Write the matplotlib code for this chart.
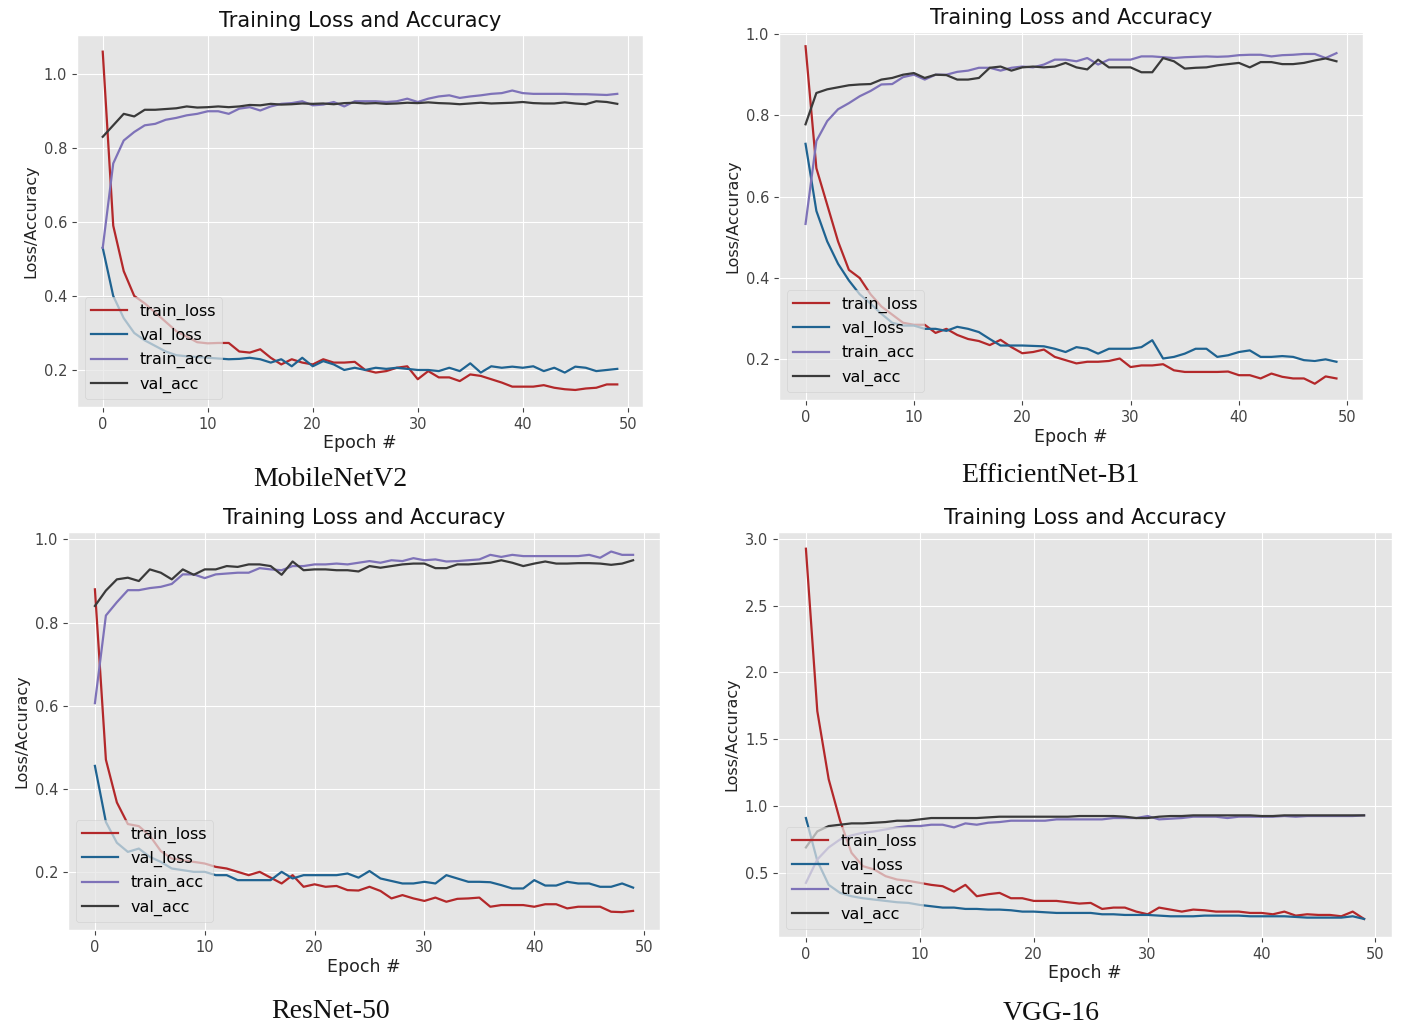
import matplotlib
matplotlib.use("Agg")
import matplotlib.pyplot as plt
import numpy as np

epochs = np.arange(50)

# MobileNetV2
mb_train_loss = [1.06, 0.59, 0.467, 0.40, 0.38, 0.355, 0.33, 0.305, 0.29, 0.275,
                 0.272, 0.273, 0.273, 0.25, 0.247, 0.256, 0.233, 0.215, 0.229, 0.22,
                 0.215, 0.229, 0.22, 0.22, 0.222, 0.20, 0.193, 0.197, 0.206, 0.21,
                 0.175, 0.197, 0.18, 0.18, 0.17, 0.188, 0.184, 0.175, 0.166, 0.155,
                 0.155, 0.155, 0.159, 0.152, 0.148, 0.146, 0.15, 0.152, 0.161, 0.161]
mb_val_loss = [0.53, 0.40, 0.34, 0.30, 0.28, 0.265, 0.25, 0.24, 0.237, 0.235,
               0.233, 0.231, 0.229, 0.23, 0.233, 0.229, 0.22, 0.229, 0.21, 0.233,
               0.21, 0.224, 0.215, 0.20, 0.206, 0.20, 0.206, 0.203, 0.206, 0.203,
               0.20, 0.20, 0.197, 0.206, 0.197, 0.218, 0.193, 0.21, 0.206, 0.209,
               0.206, 0.21, 0.197, 0.206, 0.193, 0.209, 0.206, 0.197, 0.20, 0.203]
mb_train_acc = [0.53, 0.758, 0.82, 0.843, 0.861, 0.865, 0.876, 0.881, 0.888, 0.892,
                0.899, 0.899, 0.892, 0.906, 0.91, 0.901, 0.912, 0.919, 0.921, 0.926,
                0.915, 0.917, 0.924, 0.912, 0.926, 0.926, 0.926, 0.924, 0.926, 0.933,
                0.924, 0.933, 0.939, 0.942, 0.935, 0.939, 0.942, 0.946, 0.948, 0.955,
                0.948, 0.946, 0.946, 0.946, 0.946, 0.945, 0.945, 0.944, 0.943, 0.946]
mb_val_acc = [0.83, 0.861, 0.892, 0.885, 0.903, 0.903, 0.905, 0.907, 0.912, 0.909,
              0.91, 0.912, 0.91, 0.912, 0.916, 0.915, 0.919, 0.917, 0.918, 0.92,
              0.919, 0.92, 0.918, 0.921, 0.922, 0.92, 0.921, 0.919, 0.92, 0.922,
              0.921, 0.923, 0.921, 0.92, 0.918, 0.92, 0.922, 0.92, 0.921, 0.922,
              0.924, 0.921, 0.92, 0.92, 0.923, 0.92, 0.918, 0.926, 0.924, 0.919]

# EfficientNet-B1
ef_train_loss = [0.97, 0.67, 0.58, 0.49, 0.42, 0.40, 0.36, 0.33, 0.31, 0.29,
                 0.285, 0.285, 0.265, 0.275, 0.26, 0.25, 0.245, 0.235, 0.248, 0.23,
                 0.215, 0.218, 0.224, 0.206, 0.198, 0.19, 0.194, 0.194, 0.196, 0.202,
                 0.181, 0.185, 0.185, 0.188, 0.173, 0.169, 0.169, 0.169, 0.169, 0.17,
                 0.161, 0.161, 0.153, 0.165, 0.157, 0.153, 0.153, 0.14, 0.158, 0.153]
ef_val_loss = [0.73, 0.565, 0.49, 0.435, 0.394, 0.36, 0.337, 0.312, 0.29, 0.283,
               0.283, 0.275, 0.275, 0.27, 0.28, 0.275, 0.267, 0.25, 0.234, 0.234,
               0.234, 0.233, 0.232, 0.226, 0.218, 0.23, 0.226, 0.214, 0.226, 0.226,
               0.226, 0.23, 0.247, 0.202, 0.206, 0.214, 0.226, 0.226, 0.206, 0.21,
               0.218, 0.222, 0.206, 0.206, 0.208, 0.206, 0.198, 0.196, 0.20, 0.194]
ef_train_acc = [0.533, 0.737, 0.786, 0.815, 0.83, 0.847, 0.86, 0.876, 0.877, 0.894,
                0.90, 0.888, 0.90, 0.90, 0.907, 0.91, 0.917, 0.917, 0.91, 0.917,
                0.92, 0.918, 0.925, 0.937, 0.937, 0.933, 0.941, 0.925, 0.937, 0.937,
                0.937, 0.945, 0.945, 0.943, 0.941, 0.943, 0.944, 0.945, 0.944, 0.945,
                0.948, 0.949, 0.949, 0.945, 0.948, 0.949, 0.951, 0.951, 0.941, 0.953]
ef_val_acc = [0.778, 0.855, 0.864, 0.869, 0.874, 0.876, 0.877, 0.888, 0.892, 0.90,
              0.904, 0.892, 0.90, 0.899, 0.888, 0.888, 0.892, 0.917, 0.92, 0.91,
              0.918, 0.92, 0.918, 0.92, 0.929, 0.918, 0.913, 0.937, 0.918, 0.918,
              0.918, 0.906, 0.906, 0.941, 0.933, 0.915, 0.917, 0.918, 0.923, 0.926,
              0.929, 0.918, 0.931, 0.931, 0.926, 0.926, 0.929, 0.935, 0.94, 0.933]

# ResNet-50
rn_train_loss = [0.88, 0.47, 0.367, 0.315, 0.31, 0.287, 0.25, 0.232, 0.228, 0.224,
                 0.22, 0.212, 0.208, 0.20, 0.192, 0.20, 0.186, 0.172, 0.192, 0.164,
                 0.17, 0.164, 0.166, 0.156, 0.155, 0.164, 0.154, 0.136, 0.144, 0.136,
                 0.13, 0.138, 0.128, 0.135, 0.136, 0.138, 0.116, 0.12, 0.12, 0.12,
                 0.116, 0.122, 0.122, 0.112, 0.116, 0.116, 0.116, 0.104, 0.103, 0.106]
rn_val_loss = [0.455, 0.32, 0.27, 0.248, 0.256, 0.236, 0.224, 0.208, 0.204, 0.20,
               0.20, 0.192, 0.192, 0.18, 0.18, 0.18, 0.18, 0.20, 0.184, 0.192,
               0.192, 0.192, 0.192, 0.196, 0.186, 0.202, 0.184, 0.178, 0.172, 0.172,
               0.176, 0.172, 0.192, 0.184, 0.176, 0.176, 0.175, 0.168, 0.16, 0.16,
               0.18, 0.167, 0.167, 0.176, 0.172, 0.172, 0.164, 0.164, 0.172, 0.162]
rn_train_acc = [0.606, 0.817, 0.849, 0.878, 0.878, 0.883, 0.886, 0.893, 0.916, 0.916,
                0.907, 0.916, 0.918, 0.92, 0.92, 0.931, 0.928, 0.926, 0.936, 0.936,
                0.94, 0.94, 0.942, 0.94, 0.944, 0.948, 0.944, 0.95, 0.948, 0.955,
                0.95, 0.952, 0.947, 0.948, 0.95, 0.952, 0.963, 0.958, 0.963, 0.96,
                0.96, 0.96, 0.96, 0.96, 0.96, 0.963, 0.956, 0.971, 0.963, 0.963]
rn_val_acc = [0.84, 0.877, 0.904, 0.908, 0.90, 0.928, 0.92, 0.904, 0.928, 0.915,
              0.928, 0.928, 0.936, 0.934, 0.94, 0.94, 0.936, 0.915, 0.947, 0.926,
              0.928, 0.928, 0.926, 0.926, 0.923, 0.936, 0.932, 0.936, 0.94, 0.942,
              0.942, 0.931, 0.931, 0.94, 0.94, 0.942, 0.944, 0.95, 0.944, 0.936,
              0.942, 0.947, 0.942, 0.942, 0.943, 0.943, 0.942, 0.939, 0.942, 0.95]

# VGG-16
vg_train_loss = [2.925, 1.71, 1.2, 0.89, 0.65, 0.55, 0.525, 0.475, 0.45, 0.44,
                 0.425, 0.41, 0.40, 0.36, 0.41, 0.325, 0.34, 0.35, 0.31, 0.31,
                 0.29, 0.29, 0.29, 0.28, 0.27, 0.275, 0.23, 0.24, 0.24, 0.21,
                 0.19, 0.24, 0.225, 0.21, 0.225, 0.22, 0.21, 0.21, 0.21, 0.20,
                 0.20, 0.19, 0.21, 0.18, 0.19, 0.185, 0.185, 0.175, 0.21, 0.155]
vg_val_loss = [0.91, 0.59, 0.41, 0.35, 0.325, 0.31, 0.30, 0.29, 0.28, 0.275,
               0.26, 0.25, 0.24, 0.24, 0.23, 0.23, 0.225, 0.225, 0.22, 0.21,
               0.21, 0.205, 0.20, 0.20, 0.20, 0.20, 0.19, 0.19, 0.185, 0.185,
               0.185, 0.18, 0.175, 0.175, 0.175, 0.18, 0.18, 0.18, 0.18, 0.175,
               0.175, 0.175, 0.175, 0.17, 0.165, 0.165, 0.165, 0.165, 0.175, 0.155]
vg_train_acc = [0.425, 0.60, 0.69, 0.75, 0.78, 0.80, 0.81, 0.825, 0.84, 0.85,
                0.85, 0.86, 0.86, 0.84, 0.87, 0.86, 0.875, 0.88, 0.89, 0.89,
                0.89, 0.89, 0.90, 0.90, 0.90, 0.90, 0.90, 0.91, 0.91, 0.91,
                0.925, 0.90, 0.905, 0.91, 0.92, 0.92, 0.92, 0.91, 0.92, 0.92,
                0.92, 0.92, 0.925, 0.92, 0.925, 0.925, 0.925, 0.925, 0.925, 0.93]
vg_val_acc = [0.69, 0.81, 0.85, 0.86, 0.87, 0.87, 0.875, 0.88, 0.89, 0.89,
              0.90, 0.91, 0.91, 0.91, 0.91, 0.91, 0.915, 0.92, 0.92, 0.92,
              0.92, 0.92, 0.92, 0.92, 0.925, 0.925, 0.925, 0.925, 0.92, 0.91,
              0.91, 0.92, 0.925, 0.925, 0.93, 0.93, 0.93, 0.93, 0.93, 0.93,
              0.925, 0.925, 0.93, 0.93, 0.93, 0.93, 0.93, 0.93, 0.93, 0.93]

models = ["MobileNetV2", "EfficientNet-B1", "ResNet-50", "VGG-16"]
histories = [
    (mb_train_loss, mb_val_loss, mb_train_acc, mb_val_acc),
    (ef_train_loss, ef_val_loss, ef_train_acc, ef_val_acc),
    (rn_train_loss, rn_val_loss, rn_train_acc, rn_val_acc),
    (vg_train_loss, vg_val_loss, vg_train_acc, vg_val_acc),
]
series_names = ["train_loss", "val_loss", "train_acc", "val_acc"]
colors = ["#b3282a", "#1f6391", "#7e72b8", "#3a3a3a"]

# pixel boxes: left, top, right, bottom
W, H = 1405, 1030
boxes = [(77, 35, 643, 407), (779, 32, 1363, 400),
         (68, 532, 660, 930), (778, 532, 1392, 937)]
ylims = [(0.10, 1.105), (0.10, 1.005), (0.06, 1.018), (0.02, 3.05)]
yticks = [[0.2, 0.4, 0.6, 0.8, 1.0]] * 3 + [[0.5, 1.0, 1.5, 2.0, 2.5, 3.0]]
caption_pos = [(330, 479), (1050, 475), (331, 1011), (1051, 1013)]

plt.style.use("ggplot")
plt.rcParams["font.family"] = ["DejaVu Sans"]
fig = plt.figure(figsize=(W / 100, H / 100), dpi=100)
fig.patch.set_facecolor("white")

for i, (hist, box) in enumerate(zip(histories, boxes)):
    l, t, r, b = box
    ax = fig.add_axes([l / W, 1 - b / H, (r - l) / W, (b - t) / H])
    for vals, name, c in zip(hist, series_names, colors):
        ax.plot(epochs, vals, color=c, lw=1.6, label=name)
    ax.set_xlim(-2.45, 51.45)
    ax.set_ylim(*ylims[i])
    ax.set_yticks(yticks[i])
    ax.set_xticks([0, 10, 20, 30, 40, 50])
    ax.tick_params(labelsize=10.5, colors="#444444", labelcolor="#444444")
    ax.set_title("Training Loss and Accuracy", fontsize=15, color="#111111", pad=6)
    ax.set_xlabel("Epoch #", fontsize=12.5, color="#222222", labelpad=2)
    ax.set_ylabel("Loss/Accuracy", fontsize=11.5, color="#222222")
    ax.legend(loc="lower left", fontsize=11.5, framealpha=0.7, handlelength=2.2)
    cx, cy = caption_pos[i]
    fig.text(cx / W, 1 - cy / H, models[i], ha="center", va="center",
             fontsize=20, family="Liberation Serif", color="#111111")

fig.savefig("out.png", dpi=100)
